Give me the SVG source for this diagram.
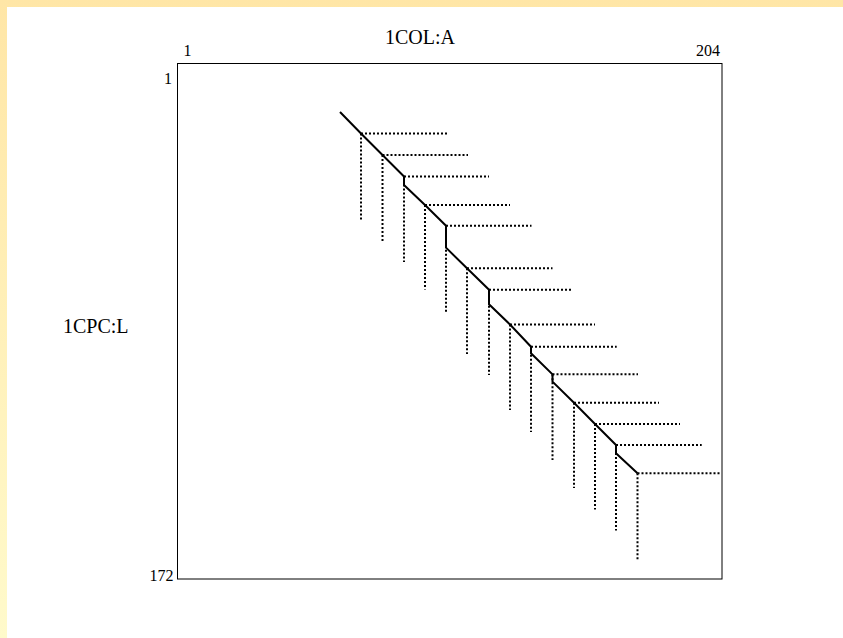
<svg xmlns="http://www.w3.org/2000/svg" width="843" height="638" viewBox="0 0 843 638">
<defs>
<linearGradient id="bg" x1="0" y1="0" x2="0" y2="1">
<stop offset="0" stop-color="#FFE6A6"/>
<stop offset="1" stop-color="#FFFACB"/>
</linearGradient>
<style>
.lbl{font-family:"Liberation Serif","Times New Roman",serif;fill:#000;}
.tick{font-size:16px;}
.axis{font-size:20px;}
.dot{fill:none;stroke:#000;stroke-width:2;stroke-dasharray:2 2;}
.aln{fill:none;stroke:#000;stroke-width:2;stroke-linejoin:miter;}
.frame{fill:#fff;stroke:#000;stroke-width:1;}
</style>
</defs>
<rect x="0" y="0" width="843" height="638" fill="url(#bg)"/>
<rect x="7" y="7" width="836" height="631" fill="#fff"/>
<g id="plot">
<rect class="frame" x="177.5" y="63.5" width="544.5" height="515.5"/>
</g>
<g id="labels">
<text class="lbl axis" x="420" y="44" text-anchor="middle">1COL:A</text>
<text class="lbl axis" x="63" y="332.5">1CPC:L</text>
<text class="lbl tick" x="183.5" y="56">1</text>
<text class="lbl tick" x="720" y="56" text-anchor="end">204</text>
<text class="lbl tick" x="172" y="84" text-anchor="end">1</text>
<text class="lbl tick" x="173.5" y="580.5" text-anchor="end">172</text>
</g>
<g id="connectors">
<g id="dotted">
<path class="dot" d="M361,133.5H447M382.5,155H468M404,176.5H489M425,205H510M446,225.7H531.5M467,268.3H552.5M489,289.7H573M510,324.5H595M531,346.7H616.7M552.5,374.3H638M574,402.7H659M595,424H680M616,445H701.7M637.5,473.3H721"/>
<path class="dot" d="M361,133.5V219.5M382.5,155V241M404,176.5V262M425,205V289.5M446,225.7V312M467,268.3V354M489,289.7V375M510,324.5V410M531,346.7V432M552.5,374.3V460M574,402.7V488M595,424V509.5M616,445V530.5M637.5,473.3V559.5"/>
</g>
<path id="alignment" class="aln" d="M340,112L361,133.5L382.5,155L404,176.5L404,185L425,205L446,225.7L446,247.7L467,268.3L489,289.7L489,304.3L510,324.5L531,346.7L531,353.3L552.5,374.3L552.5,381.7L574,402.7L595,424L616,445L616,453.3L637.5,473.3"/>
</g>
</svg>
